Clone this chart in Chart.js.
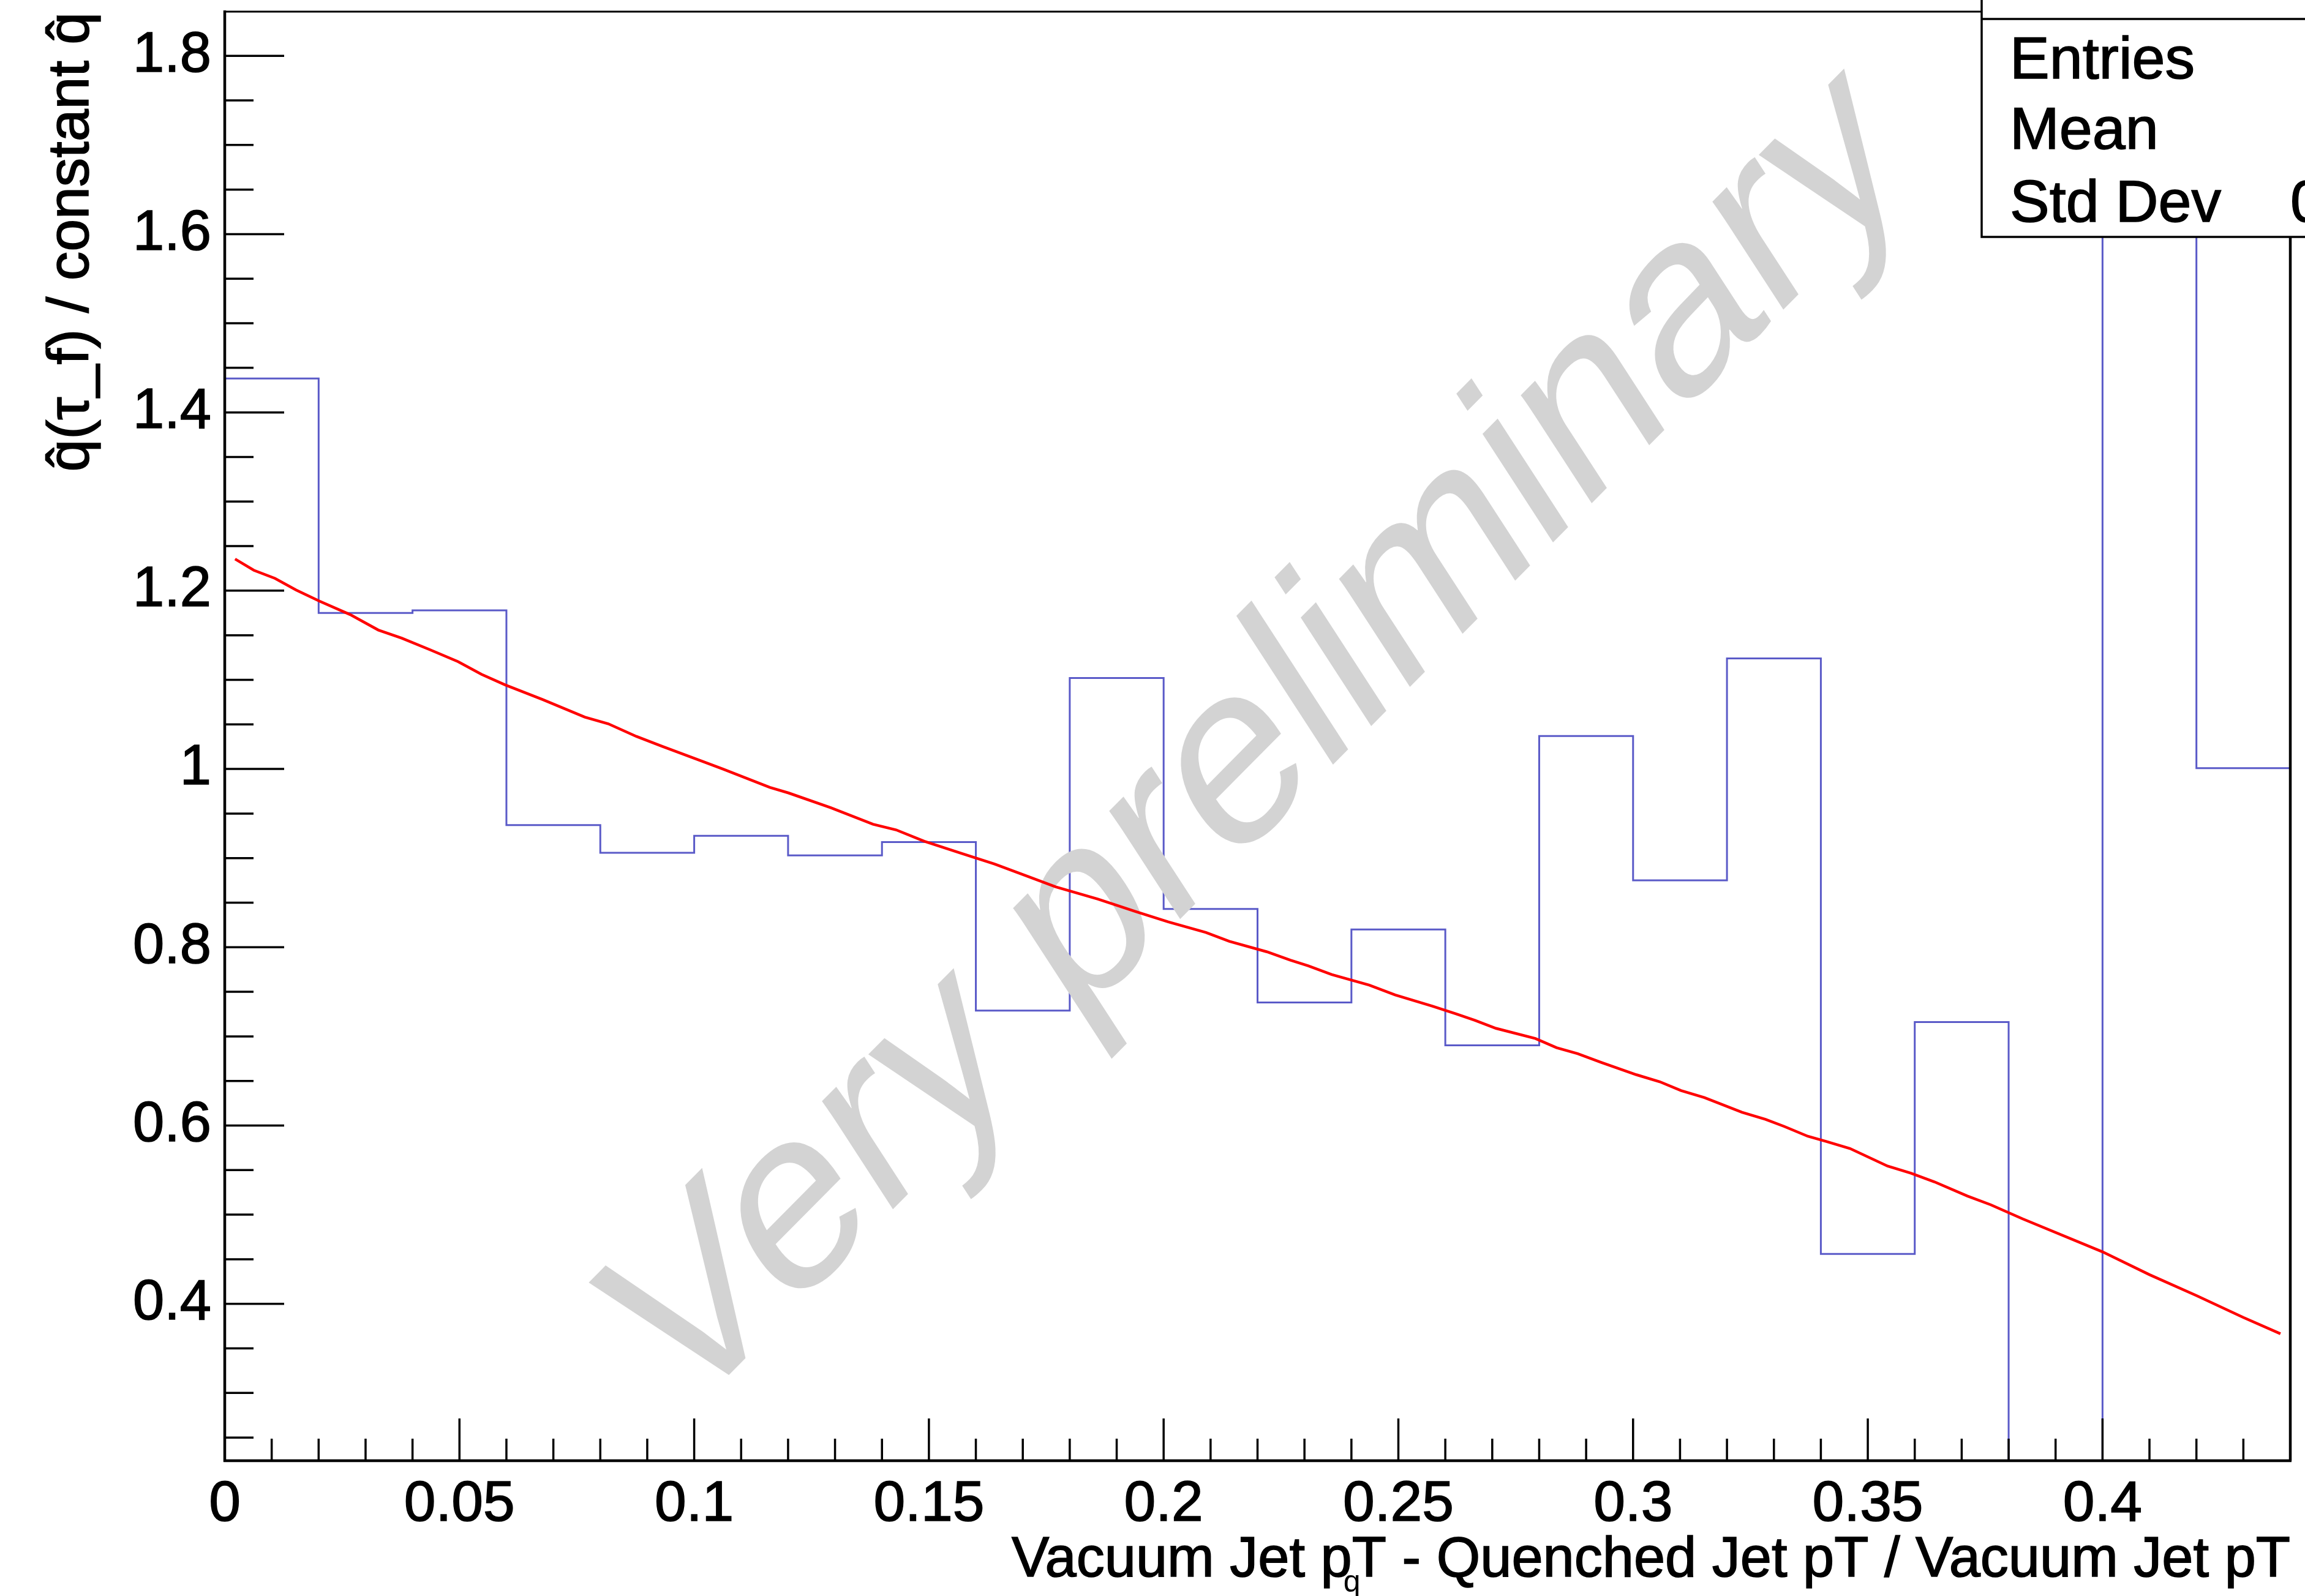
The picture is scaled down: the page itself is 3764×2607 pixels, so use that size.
<!DOCTYPE html>
<html>
<head>
<meta charset="utf-8">
<script src="https://cdn.jsdelivr.net/npm/chart.js@4.4.0/dist/chart.umd.min.js"></script>
<style>
  html, body { margin: 0; padding: 0; background: #fff; }
  canvas { display: block; }
</style>
</head>
<body>
<canvas id="qhatChart" width="3764" height="2607"></canvas>
<script>
// histogram: lower bin edges (last entry closes the final bin) and contents
const binEdges = [0, 0.02, 0.04, 0.06, 0.08, 0.10, 0.12, 0.14, 0.16, 0.18, 0.20,
                  0.22, 0.24, 0.26, 0.28, 0.30, 0.32, 0.34, 0.36, 0.38, 0.40, 0.42, 0.44];
const binValues = [1.438, 1.175, 1.178, 0.937, 0.906, 0.925, 0.903, 0.918, 0.729, 1.102, 0.843,
                   0.738, 0.820, 0.690, 1.037, 0.875, 1.124, 0.456, 0.716, 0.0, 2.0, 1.001];

// fitted curve
const fitX = [0.0022, 0.0062, 0.0107, 0.0152, 0.0202, 0.0267, 0.0327, 0.0377, 0.0437, 0.0497,
              0.0547, 0.0597, 0.0677, 0.0767, 0.0817, 0.0877, 0.0931, 0.1021, 0.1061, 0.1161,
              0.1201, 0.1291, 0.1381, 0.1430, 0.1490, 0.1570, 0.1640, 0.1710, 0.1770, 0.1860,
              0.1940, 0.2010, 0.2090, 0.2140, 0.2220, 0.2270, 0.2308, 0.2358, 0.2438, 0.2493,
              0.2573, 0.2623, 0.2663, 0.2708, 0.2792, 0.2837, 0.2882, 0.2932, 0.3007, 0.3057,
              0.3102, 0.3152, 0.3232, 0.3282, 0.3322, 0.3372, 0.3412, 0.3462, 0.3542, 0.3592,
              0.3642, 0.3712, 0.3762, 0.3830, 0.4000, 0.4100, 0.4200, 0.4300, 0.4379];
const fitY = [1.2355, 1.2229, 1.2138, 1.2008, 1.1882, 1.1732, 1.1559, 1.1468, 1.1338, 1.1204,
              1.1062, 1.0944, 1.0779, 1.0582, 1.0507, 1.0365, 1.0255, 1.0078, 0.9999, 0.9794,
              0.9731, 0.9565, 0.9380, 0.9317, 0.9190, 0.9052, 0.8934, 0.8796, 0.8678, 0.8540,
              0.8402, 0.8284, 0.8166, 0.8067, 0.7949, 0.7855, 0.7792, 0.7694, 0.7575, 0.7465,
              0.7339, 0.7252, 0.7181, 0.7090, 0.6976, 0.6873, 0.6806, 0.6708, 0.6570, 0.6491,
              0.6392, 0.6313, 0.6148, 0.6069, 0.5990, 0.5880, 0.5821, 0.5742, 0.5545, 0.5466,
              0.5368, 0.5210, 0.5111, 0.4953, 0.4583, 0.4327, 0.4093, 0.3847, 0.3664];

const xTicks = [0, 0.05, 0.1, 0.15, 0.2, 0.25, 0.3, 0.35, 0.4];
const xTickLabels = ['0', '0.05', '0.1', '0.15', '0.2', '0.25', '0.3', '0.35', '0.4'];
const yTicks = [0.4, 0.6, 0.8, 1.0, 1.2, 1.4, 1.6, 1.8];
const yTickLabels = ['0.4', '0.6', '0.8', '1', '1.2', '1.4', '1.6', '1.8'];

const statsLabels = ['Entries', 'Mean', 'Std Dev'];
const statsValues = ['', '', '0'];

const xTitle = 'Vacuum Jet pT - Quenched Jet pT / Vacuum Jet pT';
const yTitle = 'q\u0302(\u03c4_f) / constant q\u0302';
const watermark = 'Very preliminary';

const FONT = '"Liberation Sans", Arial, sans-serif';
const INK = 1.6;   // extra stroke so the text reads as heavy as Helvetica

// histogram drawn as a step line through the bin edges
const histPoints = binEdges.map((x, i) => ({ x: x, y: binValues[Math.min(i, binValues.length - 1)] }));
const fitPoints = fitX.map((x, i) => ({ x: x, y: fitY[i] }));

function seg(ctx, x1, y1, x2, y2) {
    ctx.beginPath();
    ctx.moveTo(x1, y1);
    ctx.lineTo(x2, y2);
    ctx.stroke();
}

function inkText(ctx, s, x, y) {
    ctx.fillText(s, x, y);
    ctx.lineWidth = INK;
    ctx.strokeText(s, x, y);
}

// keep the plot frame where it is, whatever the edge labels need
function noEdgePadding(axis) {
    axis.paddingTop = 0;
    axis.paddingBottom = 0;
    axis.paddingLeft = 0;
    axis.paddingRight = 0;
}

function drawWatermark(chart) {
    const ctx = chart.ctx;
    const base = 45.3 * Math.PI / 180;   // baseline direction
    const lean = 33 * Math.PI / 180;     // letter stems
    ctx.save();
    ctx.setTransform(Math.cos(base), -Math.sin(base), Math.sin(lean), Math.cos(lean), 1110, 2327);
    ctx.font = '400px ' + FONT;
    ctx.fillStyle = '#d3d3d3';
    ctx.textAlign = 'left';
    ctx.textBaseline = 'alphabetic';
    ctx.fillText(watermark, 0, 0);
    ctx.restore();
}

const rootStyle = {
    id: 'rootStyle',
    beforeDatasetDraw(chart, args) {
        // watermark sits above the histogram but below the fit
        if (args.index === 1) drawWatermark(chart);
    },
    afterDraw(chart) {
        const ctx = chart.ctx;
        const a = chart.chartArea;
        const xs = chart.scales.x;
        const ys = chart.scales.y;
        ctx.save();
        ctx.strokeStyle = '#000';
        ctx.lineCap = 'butt';

        // frame
        ctx.lineWidth = 3;
        seg(ctx, a.left, a.top, a.right, a.top);
        ctx.lineWidth = 4.5;
        seg(ctx, a.right, a.top, a.right, a.bottom);
        seg(ctx, a.left, a.top - 2, a.left, a.bottom + 2);
        seg(ctx, a.left - 2, a.bottom, a.right + 2, a.bottom);

        // inward ticks
        ctx.lineWidth = 3.5;
        for (let k = 5; k <= 37; k++) {
            const v = k * 0.05;
            if (v > ys.max) continue;
            const y = ys.getPixelForValue(v);
            seg(ctx, a.left, y, a.left + (k % 4 === 0 ? 97 : 47), y);
        }
        for (let k = 1; k < 44; k++) {
            const x = xs.getPixelForValue(k * 0.01);
            seg(ctx, x, a.bottom, x, a.bottom - (k % 5 === 0 ? 69 : 36));
        }

        // axis titles
        ctx.fillStyle = '#000';
        ctx.font = '92px ' + FONT;
        ctx.textBaseline = 'alphabetic';
        ctx.textAlign = 'right';
        inkText(ctx, xTitle, a.right, 2575);
        const titleStart = a.right - ctx.measureText(xTitle).width;
        const qx = titleStart + ctx.measureText('Vacuum Jet p').width - 14;
        ctx.font = '50px ' + FONT;
        ctx.textAlign = 'left';
        ctx.fillText('q', qx, 2600);

        ctx.save();
        ctx.translate(144, a.top + 1);
        ctx.rotate(-Math.PI / 2);
        ctx.font = '95px ' + FONT;
        ctx.textAlign = 'right';
        inkText(ctx, yTitle, 0, 0);
        ctx.restore();

        // statistics box
        const bx = 3236, by = -10, bw = 600, bb = 387;
        ctx.fillStyle = '#fff';
        ctx.fillRect(bx, by, bw, bb - by);
        ctx.lineWidth = 3.5;
        ctx.strokeRect(bx, by, bw, bb - by);
        seg(ctx, bx, 31, bx + bw, 31);
        ctx.fillStyle = '#000';
        ctx.font = '97px ' + FONT;
        ctx.textAlign = 'left';
        const rows = [128, 243, 362];
        statsLabels.forEach((s, i) => {
            inkText(ctx, s, 3282, rows[i]);
            if (statsValues[i]) inkText(ctx, statsValues[i], 3740, rows[i]);
        });
        ctx.restore();
    }
};

new Chart(document.getElementById('qhatChart'), {
    type: 'line',
    data: {
        datasets: [{
            label: 'ratio',
            data: histPoints,
            stepped: 'before',
            borderColor: '#5a5ac8',
            borderWidth: 3,
            pointRadius: 0,
            fill: false,
            order: 2
        }, {
            label: 'fit',
            data: fitPoints,
            borderColor: '#ff0000',
            borderWidth: 4.5,
            pointRadius: 0,
            tension: 0,
            fill: false,
            order: 1
        }]
    },
    options: {
        responsive: false,
        animation: false,
        devicePixelRatio: 1,
        layout: { padding: { left: 0, right: 24, top: 19, bottom: 0 } },
        plugins: {
            legend: { display: false },
            tooltip: { enabled: false },
            title: { display: false }
        },
        scales: {
            x: {
                type: 'linear',
                min: 0,
                max: 0.44,
                grid: { display: false, drawTicks: false },
                border: { display: false },
                afterBuildTicks: axis => { axis.ticks = xTicks.map(v => ({ value: v })); },
                afterFit: axis => { axis.height = 221; noEdgePadding(axis); },
                ticks: {
                    autoSkip: false,
                    maxRotation: 0,
                    padding: 17,
                    color: '#000',
                    textStrokeColor: '#000',
                    textStrokeWidth: INK,
                    font: { family: FONT, size: 93 },
                    callback: (v, i) => xTickLabels[i]
                }
            },
            y: {
                type: 'linear',
                min: 0.224,
                max: 1.8496,
                grid: { display: false, drawTicks: false },
                border: { display: false },
                afterBuildTicks: axis => { axis.ticks = yTicks.map(v => ({ value: v })); },
                afterFit: axis => { axis.width = 367; noEdgePadding(axis); },
                ticks: {
                    autoSkip: false,
                    padding: 22,
                    color: '#000',
                    textStrokeColor: '#000',
                    textStrokeWidth: INK,
                    font: { family: FONT, size: 92 },
                    callback: (v, i) => yTickLabels[i]
                }
            }
        }
    },
    plugins: [rootStyle]
});
</script>
</body>
</html>
